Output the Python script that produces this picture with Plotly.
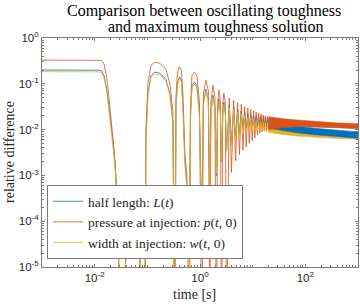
import plotly.graph_objects as go

# ---------------- data ----------------
# early part: shared time grid [s]
time_early = [0.001, 0.003, 0.008, 0.012, 0.0135, 0.0151, 0.017, 0.0187, 0.021, 0.0243, 0.0268, 0.0316,
              0.04, 0.055, 0.07, 0.089,
              0.094, 0.1026, 0.117, 0.139, 0.173, 0.225, 0.268, 0.306, 0.334,
              0.349, 0.372, 0.406, 0.443, 0.474, 0.517, 0.564, 0.63,
              0.658, 0.702, 0.783, 0.873, 0.975, 1.087,
              1.16, 1.295, 1.44, 1.54,
              1.61, 1.76, 1.92, 2.05,
              2.15, 2.29, 2.44, 2.57,
              2.70, 2.84, 3.04, 3.2]

length_early = [0.2, 0.2, 0.2, 0.198, 0.19, 0.15, 0.074, 0.03, 0.01, 0.0018, 2.5e-4, 1e-7,
                3e-5, 7e-5, 3e-5, 1e-7,
                0.006, 0.06, 0.15, 0.18, 0.17, 0.125, 0.06, 0.015, 1e-7,
                0.03, 0.1, 0.143, 0.12, 0.035, 0.002, 6e-4, 3e-5,
                0.018, 0.09, 0.11, 0.09, 0.024, 1e-4,
                0.04, 0.076, 0.045, 3.2e-4,
                0.026, 0.056, 0.03, 1e-3,
                0.022, 0.047, 0.025, 2e-3,
                0.022, 0.04, 0.022, 3.5e-3]

pressure_early = [0.33, 0.33, 0.33, 0.33, 0.325, 0.27, 0.135, 0.05, 0.014, 0.0022, 3e-4, 1e-7,
                  3e-5, 7e-5, 3e-5, 1e-7,
                  0.01, 0.1, 0.25, 0.30, 0.28, 0.21, 0.1, 0.025, 1e-7,
                  0.05, 0.17, 0.235, 0.2, 0.06, 0.003, 0.001, 1e-7,
                  0.03, 0.15, 0.18, 0.15, 0.04, 1e-7,
                  0.06, 0.12, 0.07, 1e-7,
                  0.04, 0.093, 0.05, 1e-7,
                  0.035, 0.074, 0.04, 1e-7,
                  0.035, 0.063, 0.035, 1e-7]

width_early = [0.184, 0.184, 0.184, 0.182, 0.172, 0.135, 0.067, 0.027, 0.009, 0.0017, 2.3e-4, 1e-7,
               3e-5, 7e-5, 3e-5, 1e-7,
               0.0055, 0.055, 0.14, 0.165, 0.155, 0.115, 0.055, 0.014, 1e-7,
               0.027, 0.09, 0.13, 0.11, 0.03, 0.0018, 5e-4, 1e-7,
               0.016, 0.08, 0.1, 0.08, 0.02, 5e-5,
               0.035, 0.069, 0.04, 4e-4,
               0.023, 0.051, 0.028, 1.1e-3,
               0.02, 0.042, 0.022, 2e-3,
               0.02, 0.035, 0.02, 3.2e-3]

# middle part: oscillation peaks and troughs
peak_time = [3.59, 4.35, 5.18, 6.08, 7.05, 8.09, 9.21, 10.4, 11.66, 13.0, 14.4, 15.9, 17.4, 19.05]
trough_time = [3.96, 4.75, 5.62, 6.55, 7.56, 8.64, 9.8, 11.0, 12.3, 13.7, 15.1, 16.6, 18.2, 19.9]

length_peaks = [0.0347, 0.0309, 0.0282, 0.0257, 0.024, 0.0224, 0.0214, 0.0204, 0.02, 0.0195, 0.0191, 0.0186, 0.0182, 0.0178]
length_troughs = [0.00525, 0.00708, 0.00851, 0.01, 0.011, 0.0115, 0.0117, 0.0117, 0.0117, 0.0115, 0.0112, 0.011, 0.0107, 0.0105]
pressure_peaks = [0.049, 0.0437, 0.0389, 0.0355, 0.0316, 0.0295, 0.0275, 0.0257, 0.024, 0.0229, 0.0219, 0.0209, 0.02, 0.0195]
pressure_troughs = [0.00117, 0.00209, 0.00282, 0.00355, 0.00417, 0.00501, 0.00575, 0.00661, 0.00759, 0.00832, 0.00891, 0.00933, 0.00955, 0.00977]
width_peaks = [0.0302, 0.0269, 0.024, 0.0219, 0.02, 0.0186, 0.0174, 0.0166, 0.0158, 0.0151, 0.0148, 0.0145, 0.0141, 0.0138]
width_troughs = [0.00447, 0.00562, 0.00676, 0.00794, 0.00891, 0.00955, 0.01, 0.01, 0.00977, 0.00955, 0.00933, 0.00912, 0.00891, 0.00871]

# late part: the oscillation is so dense that it forms a band (upper / lower envelope)
band_time = [20, 35, 70, 150, 350, 1000]
length_upper = [0.0174, 0.0145, 0.012, 0.0107, 0.00977, 0.00891]
length_lower = [0.0107, 0.00955, 0.00851, 0.00776, 0.00708, 0.00646]
pressure_upper = [0.0191, 0.0174, 0.0162, 0.0151, 0.0141, 0.0135]
pressure_lower = [0.01, 0.011, 0.0117, 0.0115, 0.011, 0.0105]
width_upper = [0.0135, 0.0115, 0.01, 0.00891, 0.00813, 0.00759]
width_lower = [0.00871, 0.00794, 0.00724, 0.00676, 0.00646, 0.00617]

names = ["half length: <i>L</i>(<i>t</i>)",
         "pressure at injection: <i>p</i>(<i>t</i>, 0)",
         "width at injection: <i>w</i>(<i>t</i>, 0)"]
colors = ["#0072BD", "#D95319", "#EDB120"]

x_ticks = [0.01, 1, 100]
x_labels = ["10<sup>-2</sup>", "10<sup>0</sup>", "10<sup>2</sup>"]
y_ticks = [1e-5, 1e-4, 1e-3, 1e-2, 1e-1, 1]
y_labels = ["10<sup>-5</sup>", "10<sup>-4</sup>", "10<sup>-3</sup>", "10<sup>-2</sup>",
            "10<sup>-1</sup>", "10<sup>0</sup>"]

# ---------------- figure ----------------
def interleave(a, b):
    out = []
    for u, v in zip(a, b):
        out += [u, v]
    return out

series = [
    (length_early, length_peaks, length_troughs, length_upper, length_lower),
    (pressure_early, pressure_peaks, pressure_troughs, pressure_upper, pressure_lower),
    (width_early, width_peaks, width_troughs, width_upper, width_lower),
]

fig = go.Figure()
mid_time = interleave(peak_time, trough_time)
for (early, pk, tr, up, lo), name, col in zip(series, names, colors):
    fig.add_trace(go.Scatter(x=time_early + mid_time, y=early + interleave(pk, tr),
                             mode="lines", name=name, line=dict(color=col, width=0.8)))
# dense late oscillation bands (yellow under blue under orange)
for idx in (2, 0, 1):
    _, _, _, up, lo = series[idx]
    col = colors[idx]
    fig.add_trace(go.Scatter(x=band_time + band_time[::-1], y=up + lo[::-1],
                             mode="lines", fill="toself", fillcolor=col,
                             line=dict(color=col, width=0.6), showlegend=False,
                             hoverinfo="skip"))

serif = "Liberation Serif"
sans = "Liberation Sans"
axcol = "#7a7a7a"
txtcol = "#262626"

W, H = 360, 304
L, R, T, B = 42, 2, 38, 37
PW, PH = W - L - R, H - T - B


def px(x):
    return (x - L) / PW


def py(y):
    return (H - B - y) / PH


common = dict(type="log", showgrid=False, zeroline=False, showline=True, linecolor=axcol,
              linewidth=1, mirror="ticks", ticks="inside", ticklen=3, tickcolor=axcol,
              automargin=False,
              tickfont=dict(family=sans, size=11.5, color=txtcol),
              minor=dict(ticks="inside", ticklen=2, tickcolor=axcol, dtick="D1", showgrid=False))

fig.update_xaxes(range=[-3, 3], tickmode="array", tickvals=x_ticks, ticktext=x_labels, **common)
fig.update_yaxes(range=[-5, 0], tickmode="array", tickvals=y_ticks, ticktext=y_labels, **common)

title_font = dict(family=serif, size=16, color="#000000")
label_font = dict(family=serif, size=14, color=txtcol)

fig.update_layout(
    width=W, height=H,
    margin=dict(l=L, r=R, t=T, b=B, autoexpand=False),
    plot_bgcolor="white", paper_bgcolor="white",
    showlegend=True,
    legend=dict(x=px(47), y=py(259), xanchor="left", yanchor="bottom",
                bgcolor="white", bordercolor=axcol, borderwidth=1,
                font=dict(family=serif, size=13.5, color=txtcol),
                itemwidth=30, tracegroupgap=0),
    annotations=[
        dict(text="Comparison between oscillating toughness", x=px(204), y=py(11),
             xref="paper", yref="paper", showarrow=False, font=title_font,
             xanchor="center", yanchor="middle"),
        dict(text="and maximum toughness solution", x=px(216), y=py(27),
             xref="paper", yref="paper", showarrow=False, font=title_font,
             xanchor="center", yanchor="middle"),
        dict(text="time [s]", x=px(194), y=py(294), xref="paper", yref="paper",
             showarrow=False, font=label_font, xanchor="center", yanchor="middle"),
        dict(text="relative difference", x=px(9), y=py(152), xref="paper", yref="paper",
             showarrow=False, font=label_font, xanchor="center", yanchor="middle",
             textangle=-90),
    ],
)

fig.write_html("out.html", config={"displayModeBar": False},
               post_script="document.body.style.margin='0';document.body.style.padding='0';")
